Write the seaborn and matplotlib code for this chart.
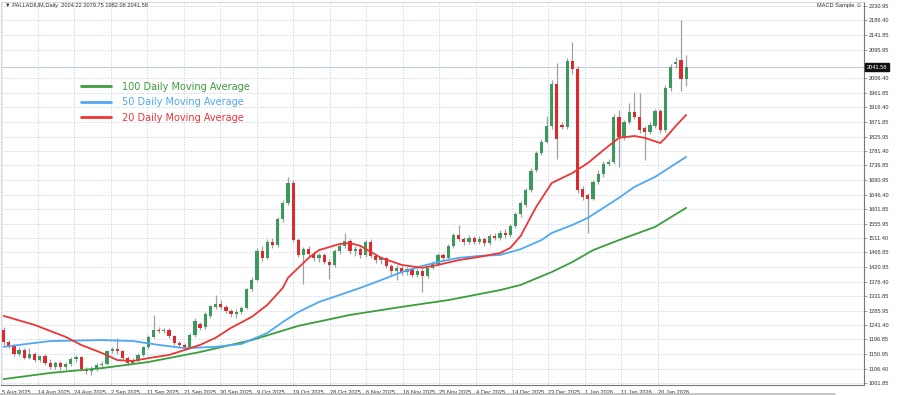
import matplotlib
matplotlib.use("Agg")
import matplotlib.pyplot as plt
from matplotlib.lines import Line2D
import numpy as np
import seaborn as sns

# daily candles (bar 0 = 5 Aug 2025)
opens = [1226, 1190, 1178, 1152, 1165, 1140, 1152, 1132, 1145, 1125,
         1112, 1124, 1110, 1120, 1135, 1143, 1105, 1098, 1106, 1118,
         1122, 1160, 1168, 1160, 1140, 1125, 1132, 1150, 1172, 1205,
         1226, 1224, 1226, 1207, 1186, 1180, 1175, 1211, 1245, 1235,
         1270, 1298, 1308, 1298, 1284, 1276, 1282, 1296, 1352, 1382,
         1470, 1450, 1500, 1490, 1570, 1620, 1682, 1505, 1460, 1478,
         1462, 1448, 1458, 1438, 1428, 1470, 1488, 1502, 1470, 1478,
         1458, 1500, 1455, 1442, 1448, 1425, 1408, 1420, 1405, 1415,
         1398, 1410, 1395, 1420, 1432, 1458, 1448, 1488, 1520, 1510,
         1498, 1512, 1500, 1510, 1496, 1518, 1512, 1528, 1520, 1548,
         1585, 1614, 1660, 1722, 1775, 1810, 1860, 1990, 1862, 1856,
         2060, 2035, 1665, 1645, 1634, 1685, 1710, 1742, 1748, 1888,
         1826, 1872, 1902, 1888, 1852, 1840, 1858, 1905, 1846, 1976,
         2050, 2062, 2004.22]
highs = [1236, 1196, 1184, 1172, 1170, 1170, 1158, 1150, 1152, 1135,
         1130, 1130, 1128, 1142, 1150, 1147, 1112, 1114, 1124, 1130,
         1165, 1174, 1200, 1164, 1146, 1140, 1156, 1178, 1210, 1272,
         1236, 1234, 1232, 1212, 1192, 1186, 1216, 1262, 1252, 1282,
         1305, 1335, 1318, 1304, 1292, 1292, 1302, 1358, 1390, 1480,
         1488, 1510, 1512, 1578, 1630, 1700, 1690, 1512, 1485, 1486,
         1470, 1466, 1465, 1445, 1476, 1495, 1528, 1508, 1486, 1484,
         1506, 1508, 1462, 1456, 1452, 1430, 1428, 1426, 1422, 1420,
         1418, 1416, 1426, 1440, 1464, 1466, 1494, 1528, 1552, 1516,
         1520, 1518, 1518, 1515, 1524, 1526, 1536, 1540, 1554, 1592,
         1626, 1668, 1728, 1782, 1818, 1890, 2000, 2055, 1870, 2070,
         2120, 2045, 1672, 1652, 1692, 1722, 1750, 1756, 1895, 1908,
         1878, 1930, 1965, 1962, 1858, 1870, 1912, 1912, 1985, 2050,
         2072, 2188, 2079.75]
lows = [1180, 1170, 1146, 1145, 1135, 1136, 1126, 1127, 1118, 1105,
        1106, 1102, 1103, 1114, 1128, 1098, 1090, 1088, 1100, 1112,
        1118, 1154, 1152, 1133, 1118, 1120, 1128, 1146, 1168, 1200,
        1216, 1218, 1200, 1180, 1172, 1166, 1170, 1206, 1225, 1230,
        1265, 1292, 1290, 1278, 1268, 1262, 1276, 1290, 1346, 1378,
        1440, 1445, 1480, 1485, 1562, 1615, 1498, 1452, 1370, 1455,
        1440, 1438, 1430, 1385, 1422, 1462, 1482, 1462, 1455, 1450,
        1452, 1448, 1435, 1430, 1418, 1398, 1380, 1398, 1396, 1390,
        1392, 1345, 1388, 1414, 1426, 1440, 1442, 1482, 1502, 1490,
        1492, 1492, 1494, 1488, 1490, 1504, 1506, 1512, 1514, 1542,
        1578, 1608, 1655, 1716, 1770, 1805, 1850, 1758, 1850, 1850,
        2020, 1650, 1630, 1526, 1628, 1680, 1700, 1735, 1742, 1733,
        1815, 1866, 1880, 1838, 1753, 1834, 1852, 1838, 1840, 1968,
        2040, 1966, 1982.08]
closes = [1188, 1178, 1152, 1165, 1140, 1152, 1132, 1145, 1125, 1112,
          1124, 1110, 1120, 1135, 1143, 1105, 1098, 1106, 1118, 1122,
          1160, 1168, 1160, 1140, 1125, 1132, 1150, 1172, 1205, 1226,
          1224, 1226, 1207, 1186, 1180, 1173, 1211, 1255, 1232, 1275,
          1300, 1308, 1298, 1284, 1276, 1282, 1296, 1352, 1382, 1470,
          1450, 1500, 1490, 1570, 1620, 1682, 1505, 1460, 1478, 1462,
          1448, 1458, 1438, 1428, 1470, 1488, 1502, 1470, 1478, 1458,
          1500, 1455, 1442, 1448, 1425, 1408, 1420, 1405, 1415, 1398,
          1410, 1395, 1420, 1432, 1458, 1448, 1488, 1520, 1510, 1498,
          1512, 1500, 1510, 1496, 1518, 1512, 1528, 1520, 1548, 1585,
          1620, 1660, 1720, 1775, 1810, 1860, 1990, 1820, 1856, 2060,
          2035, 1660, 1640, 1634, 1685, 1710, 1742, 1748, 1888, 1826,
          1872, 1902, 1888, 1846, 1840, 1862, 1905, 1846, 1976, 2042,
          2058, 2004, 2041.58]

# moving averages, sampled along the chart
ma100_bars = [0, 9, 19, 28, 38, 48, 57, 67, 77, 86, 96, 100, 106, 110, 114, 119, 126, 132]
ma100_vals = [1074, 1093, 1108, 1127, 1158, 1195, 1239, 1273, 1298, 1319, 1350, 1366, 1406,
              1437, 1474, 1505, 1546, 1605]
ma50_bars = [0, 9, 19, 25, 30, 35, 41, 46, 51, 54, 57, 61, 65, 69, 73, 77, 81, 84, 88, 92,
             96, 100, 104, 106, 110, 113, 116, 119, 122, 126, 129, 132]
ma50_vals = [1174, 1192, 1195, 1192, 1180, 1170, 1174, 1183, 1217, 1251, 1282, 1313, 1335,
             1357, 1381, 1406, 1425, 1437, 1450, 1456, 1459, 1477, 1505, 1527, 1552, 1574,
             1605, 1636, 1670, 1701, 1732, 1763]
ma20_bars = [0, 6, 12, 15, 19, 22, 25, 28, 32, 35, 38, 41, 44, 48, 51, 54, 55, 57, 59, 61,
             65, 67, 69, 73, 77, 81, 84, 88, 92, 96, 98, 100, 103, 106, 110, 113, 116, 119,
             122, 124, 127, 128, 130, 132]
ma20_vals = [1270, 1242, 1205, 1180, 1155, 1133, 1130, 1139, 1149, 1164, 1180, 1202, 1233,
             1267, 1304, 1357, 1388, 1419, 1450, 1474, 1493, 1496, 1487, 1450, 1428, 1419,
             1428, 1443, 1453, 1465, 1481, 1518, 1608, 1682, 1713, 1744, 1784, 1822, 1828,
             1822, 1806, 1822, 1859, 1893]

date_labels = ["5 Aug 2025", "14 Aug 2025", "24 Aug 2025", "2 Sep 2025", "11 Sep 2025",
               "21 Sep 2025", "30 Sep 2025", "9 Oct 2025", "19 Oct 2025", "28 Oct 2025",
               "6 Nov 2025", "16 Nov 2025", "25 Nov 2025", "4 Dec 2025", "14 Dec 2025",
               "23 Dec 2025", "1 Jan 2026", "11 Jan 2026", "20 Jan 2026"]
# 2051.40 is hidden under the last-price marker in the original
price_labels = ["2230.95", "2186.40", "2141.85", "2095.95", "2006.40", "1961.85",
                "1916.40", "1871.85", "1825.95", "1781.40", "1736.85", "1690.95", "1646.40",
                "1601.85", "1555.95", "1511.40", "1466.85", "1420.95", "1376.40", "1331.85",
                "1285.95", "1241.40", "1196.85", "1150.95", "1106.40", "1061.85"]

UP = "#3a9a5c"
DOWN = "#dc2a2f"
WICK = "#a0a0a0"
GRID = "#c9d3e6"
SMALL = dict(fontsize=4.1, family=["Liberation Sans", "DejaVu Sans"])

sns.set_theme(style="white")
plt.rcParams["font.family"] = ["DejaVu Sans"]

fig = plt.figure(figsize=(9, 3.95), dpi=100)
ax = fig.add_axes([1 / 900, 10 / 395, 863 / 900, 383 / 395])

x = np.arange(len(closes))
o = np.array(opens, dtype=float)
c = np.array(closes, dtype=float)
up = c >= o
body_lo = np.minimum(o, c)
body_h = np.maximum(np.abs(c - o), 2.5)

ax.vlines(x, lows, highs, color=WICK, lw=0.9, zorder=2)
ax.bar(x[up], body_h[up], bottom=body_lo[up], width=0.62, color=UP, zorder=3, linewidth=0)
ax.bar(x[~up], body_h[~up], bottom=body_lo[~up], width=0.62, color=DOWN, zorder=3, linewidth=0)

sns.lineplot(x=ma100_bars, y=ma100_vals, color="#3b9e3b", lw=1.3, ax=ax, zorder=4)
sns.lineplot(x=ma50_bars, y=ma50_vals, color="#4fa8f5", lw=1.3, ax=ax, zorder=4)
sns.lineplot(x=ma20_bars, y=ma20_vals, color="#ee3535", lw=1.3, ax=ax, zorder=4)

# current bid line
ax.axhline(closes[-1], color="#c4cad6", lw=0.8, zorder=1)

ax.set_xlim(-0.5, 166.4)
ax.set_ylim(1055.7, 2243.4)

xticks = [k * 7.052 - 0.4 for k in range(len(date_labels))]
ax.set_xticks(xticks)
ax.set_xticklabels(date_labels, ha="left", color="#333333", **SMALL)
yvals = [float(v) for v in price_labels]
ax.yaxis.tick_right()
ax.set_yticks(yvals)
ax.set_yticklabels(price_labels, color="#333333", **SMALL)
ax.tick_params(axis="both", length=2, width=0.5, color="#777777", pad=1.5)

ax.grid(True, color=GRID, linestyle=(0, (1.6, 1.6)), lw=0.6)
ax.set_axisbelow(True)
for side in ["top", "left"]:
    ax.spines[side].set_color("#d0d0d0")
    ax.spines[side].set_linewidth(0.6)
for side in ["right", "bottom"]:
    ax.spines[side].set_color("#777777")
    ax.spines[side].set_linewidth(0.8)

# last price marker on the price scale
ax.text(1.003, closes[-1], f"{closes[-1]:.2f}", transform=ax.get_yaxis_transform(),
        color="white", va="center", ha="left", zorder=10, clip_on=False,
        bbox=dict(boxstyle="square,pad=0.3", fc="#111111", ec="#111111"), **SMALL)

handles = [Line2D([], [], color="#3b9e3b", lw=2),
           Line2D([], [], color="#4fa8f5", lw=2),
           Line2D([], [], color="#ee3535", lw=2)]
leg = ax.legend(handles, ["100 Daily Moving Average", "50 Daily Moving Average",
                          "20 Daily Moving Average"],
                loc="upper left", bbox_to_anchor=(0.082, 0.815), frameon=False,
                fontsize=7, handlelength=3.1, handletextpad=1.2, labelspacing=0.58)
for txt, col in zip(leg.get_texts(), ["#3b9e3b", "#4fa8f5", "#ee3535"]):
    txt.set_color(col)

fig.text(5 / 900, 1 - 6 / 395, "\u25bc PALLADIUM,Daily  2004.22 2079.75 1982.08 2041.58",
         color="#333333", va="center", ha="left", **SMALL)
fig.text(862 / 900, 1 - 6 / 395, "MACD Sample \u263a", color="#333333",
         va="center", ha="right", **SMALL)
fig.add_artist(Line2D([0, 835 / 900], [1.5 / 395, 1.5 / 395], color="#bbbbbb", lw=1.2))

fig.savefig("out.png", dpi=100, facecolor="white")
